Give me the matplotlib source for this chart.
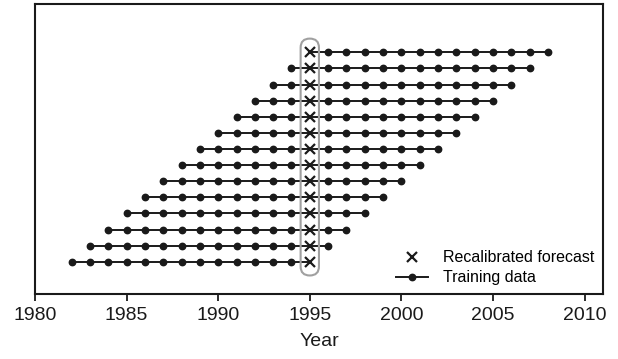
import numpy as np
import matplotlib.pyplot as plt
from matplotlib.patches import FancyBboxPatch
from matplotlib.lines import Line2D

plt.rcParams['font.family'] = ['Liberation Sans', 'DejaVu Sans']

# first and last year of each training window (bottom row first)
start_years = [1982, 1983, 1984, 1985, 1986, 1987, 1988,
               1989, 1990, 1991, 1992, 1993, 1994, 1995]
end_years = [1995, 1996, 1997, 1998, 1999, 2000, 2001,
             2002, 2003, 2004, 2005, 2006, 2007, 2008]
forecast_year = 1995
x_ticks = [1980, 1985, 1990, 1995, 2000, 2005, 2010]

fig = plt.figure(figsize=(6.18, 3.59), dpi=100)
ax = fig.add_axes([0.0566, 0.181, 0.919, 0.808])

dark = '#1a1a1a'
for row, (y0, y1) in enumerate(zip(start_years, end_years), start=1):
    years = np.arange(y0, y1 + 1)
    dots = years[years != forecast_year]
    ax.plot(years, np.full(len(years), row), '-', color=dark, lw=1.4, zorder=2)
    ax.plot(dots, np.full(len(dots), row), 'o', color=dark, ms=4.6, zorder=3)
    ax.plot([forecast_year], [row], 'x', color=dark, ms=6.5, mew=1.6, zorder=3)

# grey rounded box around the forecasts
box = FancyBboxPatch((forecast_year - 0.5, 0.15), 1.0, 14.7,
                     boxstyle='round,pad=0,rounding_size=0.5',
                     mutation_aspect=1.12, fill=False,
                     edgecolor='#a0a0a0', lw=1.5, zorder=4)
ax.add_patch(box)

ax.set_xlim(1980, 2011)
ax.set_ylim(-1, 17)
ax.set_xticks(x_ticks)
ax.set_yticks([])
ax.tick_params(axis='x', direction='out', length=5, width=1.3,
               labelsize=14, color=dark, labelcolor=dark, pad=4)
for sp in ax.spines.values():
    sp.set_linewidth(1.5)
    sp.set_color(dark)
ax.set_xlabel('Year', fontsize=14, color=dark, labelpad=7)

handles = [
    Line2D([], [], ls='none', marker='x', color=dark, ms=6.5, mew=1.6),
    Line2D([], [], ls='-', marker='o', color=dark, ms=4.6, lw=1.4),
]
ax.legend(handles, ['Recalibrated forecast', 'Training data'],
          loc='lower right', frameon=False, fontsize=11.5,
          handlelength=2.0, handletextpad=0.9, labelspacing=0.3,
          borderaxespad=0.15)

fig.savefig('out.png', dpi=100)
